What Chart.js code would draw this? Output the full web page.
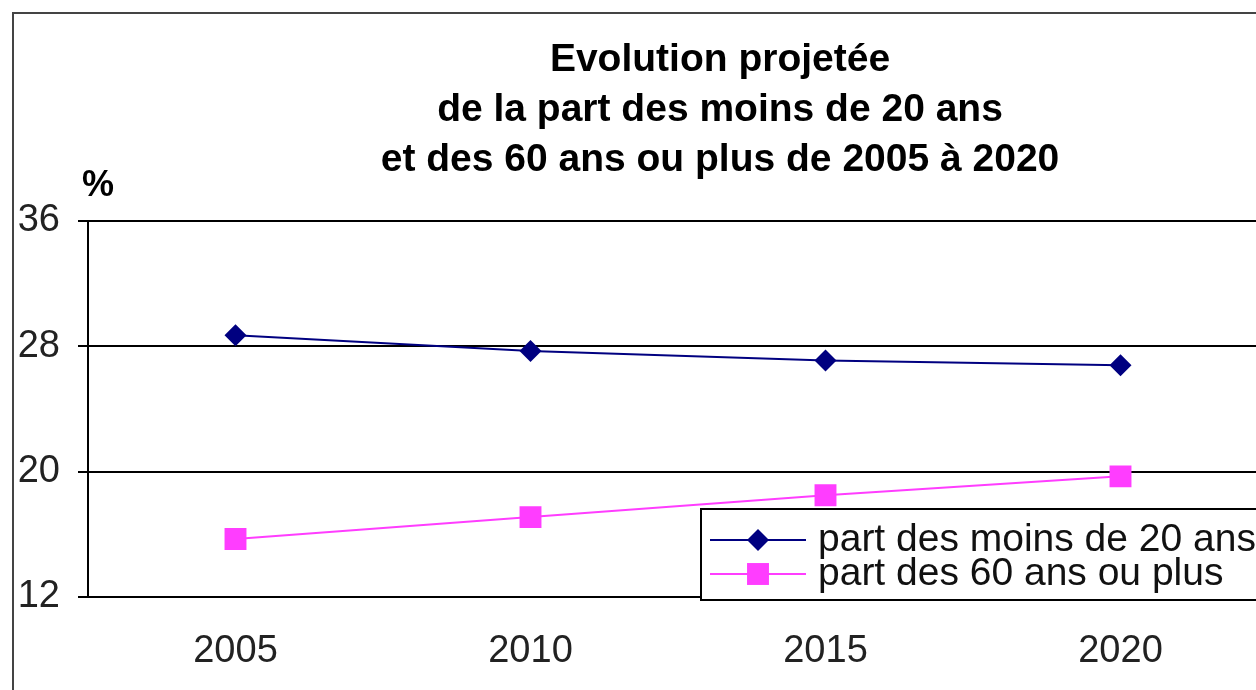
<!DOCTYPE html>
<html>
<head>
<meta charset="utf-8">
<script src="https://cdn.jsdelivr.net/npm/chart.js@4/dist/chart.umd.min.js"></script>
<style>
  html, body { margin: 0; padding: 0; background: #fff; overflow: hidden; }
  #wrap { width: 1256px; height: 690px; overflow: hidden; position: relative; }
  #myChart { position: absolute; left: 0; top: 0; }
</style>
</head>
<body>
<div id="wrap"><canvas id="myChart" width="1440" height="690"></canvas></div>
<script>
const years = ['2005', '2010', '2015', '2020'];
const moins20 = [28.7, 27.7, 27.1, 26.8];
const plus60 = [15.7, 17.1, 18.5, 19.7];
const seriesNames = ['part des moins de 20 ans', 'part des 60 ans ou plus'];
const titleLines = ['Evolution projetée', 'de la part des moins de 20 ans', 'et des 60 ans ou plus de 2005 à 2020'];
const yMin = 12;
const yMax = 36;
const yStep = 8;

const FONT = "'Liberation Sans', Arial, sans-serif";

// frame + "%" label
const decor = {
  id: 'decor',
  beforeDraw(chart) {
    const ctx = chart.ctx;
    ctx.save();
    ctx.strokeStyle = '#444';
    ctx.lineWidth = 2;
    ctx.beginPath();
    ctx.moveTo(13, 700);
    ctx.lineTo(13, 13);
    ctx.lineTo(1500, 13);
    ctx.stroke();
    ctx.restore();
  },
  afterDraw(chart) {
    const ctx = chart.ctx;
    const area = chart.chartArea;
    ctx.save();
    ctx.fillStyle = '#000';
    ctx.font = 'bold 36px ' + FONT;
    ctx.textAlign = 'center';
    ctx.textBaseline = 'middle';
    ctx.fillText('%', area.left + 10, area.top - 35);
    ctx.restore();
  },
};

// legend box drawn inside the plot, bottom right
const boxLegend = {
  id: 'boxLegend',
  afterDatasetsDraw(chart) {
    const ctx = chart.ctx;
    const area = chart.chartArea;
    const left = area.left + 613;
    const top = area.bottom - 88;
    ctx.save();
    ctx.fillStyle = '#fff';
    ctx.fillRect(left, top, 700, 91);
    ctx.strokeStyle = '#000';
    ctx.lineWidth = 2;
    ctx.strokeRect(left, top, 700, 91);
    chart.data.datasets.forEach((ds, i) => {
      const y = top + 31 + i * 34;
      ctx.strokeStyle = ds.borderColor;
      ctx.lineWidth = 2;
      ctx.beginPath();
      ctx.moveTo(left + 9, y);
      ctx.lineTo(left + 105, y);
      ctx.stroke();
      ctx.fillStyle = ds.pointBackgroundColor;
      Chart.helpers.drawPoint(ctx, {
        pointStyle: ds.pointStyle,
        radius: ds.pointRadius,
        rotation: 0,
        borderWidth: 0,
      }, left + 57, y);
      ctx.fillStyle = '#111';
      ctx.font = '39px ' + FONT;
      ctx.textAlign = 'left';
      ctx.textBaseline = 'middle';
      ctx.fillText(ds.label, left + 117, y);
    });
    ctx.restore();
  },
};

const ctx = document.getElementById('myChart').getContext('2d');
const chart = new Chart(ctx, {
  type: 'line',
  data: {
    labels: years,
    datasets: [
      {
        label: seriesNames[0],
        data: moins20,
        borderColor: '#000080',
        backgroundColor: '#000080',
        pointBackgroundColor: '#000080',
        pointBorderWidth: 0,
        borderWidth: 2,
        pointStyle: 'rectRot',
        pointRadius: 11,
        tension: 0,
      },
      {
        label: seriesNames[1],
        data: plus60,
        borderColor: '#ff3dff',
        backgroundColor: '#ff3dff',
        pointBackgroundColor: '#ff3dff',
        pointBorderWidth: 0,
        borderWidth: 2,
        pointStyle: 'rect',
        pointRadius: 15.5,
        tension: 0,
      },
    ],
  },
  options: {
    responsive: false,
    animation: false,
    devicePixelRatio: 1,
    layout: { padding: 0 },
    plugins: {
      legend: { display: false },
      tooltip: { enabled: false },
      title: {
        display: true,
        text: titleLines,
        color: '#000',
        font: { family: FONT, size: 39, weight: 'bold', lineHeight: 50 / 39 },
        padding: { top: 35, bottom: 36 },
      },
    },
    scales: {
      x: {
        offset: true,
        grid: { display: false, drawTicks: false },
        border: { display: true, color: '#000', width: 2 },
        ticks: { color: '#222', font: { family: FONT, size: 38 }, padding: 32, maxRotation: 0 },
        afterFit(scale) { scale.height = 93; },
      },
      y: {
        min: yMin,
        max: yMax,
        grid: { color: '#000', lineWidth: 2, tickLength: 10, drawTicks: true },
        border: { display: true, color: '#000', width: 2 },
        ticks: { stepSize: yStep, color: '#222', font: { family: FONT, size: 38 }, padding: 18 },
        afterFit(scale) { scale.width = 88; },
      },
      // empty right-hand space so the plot runs off the picture like the original
      yRight: {
        position: 'right',
        grid: { display: false },
        border: { display: false },
        ticks: { display: false },
        afterFit(scale) { scale.width = 172; },
      },
    },
  },
  plugins: [decor, boxLegend],
});
</script>
</body>
</html>
